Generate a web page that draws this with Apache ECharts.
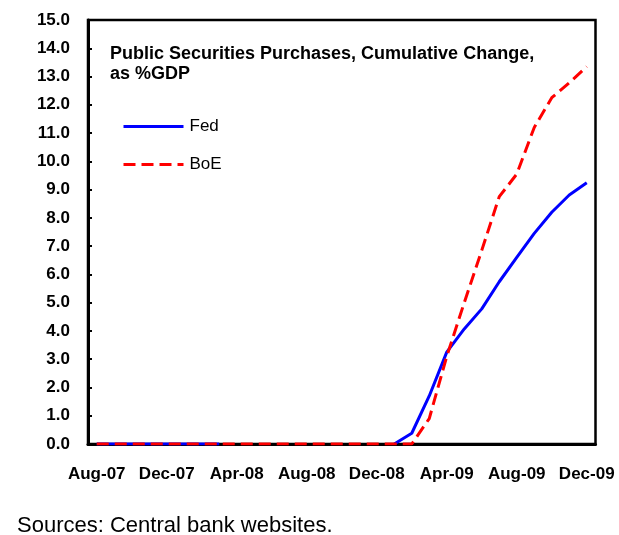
<!DOCTYPE html>
<html>
<head>
<meta charset="utf-8">
<script src="https://cdn.jsdelivr.net/npm/echarts@6/dist/echarts.min.js"></script>
<style>
  html, body { margin: 0; padding: 0; background: #fff; }
  #chart { width: 619px; height: 535px; }
</style>
</head>
<body>
<div id="chart"></div>
<script>
var months = ['Aug-07', 'Sep-07', 'Oct-07', 'Nov-07', 'Dec-07', 'Jan-08', 'Feb-08', 'Mar-08',
  'Apr-08', 'May-08', 'Jun-08', 'Jul-08', 'Aug-08', 'Sep-08', 'Oct-08', 'Nov-08', 'Dec-08',
  'Jan-09', 'Feb-09', 'Mar-09', 'Apr-09', 'May-09', 'Jun-09', 'Jul-09', 'Aug-09', 'Sep-09',
  'Oct-09', 'Nov-09', 'Dec-09'];
var fed = [0, 0, 0, 0, 0, 0, 0, 0,
  null, null, null, null, null, null, null, null, null,
  0, 0.38, 1.7, 3.25, 4.07, 4.78, 5.74, 6.6, 7.45, 8.2, 8.81, 9.24];
var boe = [0, 0, 0, 0, 0, 0, 0, 0, 0, 0, 0, 0, 0, 0, 0, 0, 0, 0, 0,
  0.9, 3.1, 5.0, 6.85, 8.75, 9.55, 11.2, 12.25, 12.78, 13.35];
var titleText = 'Public Securities Purchases, Cumulative Change,\nas %GDP';
var sourceText = 'Sources: Central bank websites.';

var font = '"Liberation Sans", Arial, sans-serif';
var chart = echarts.init(document.getElementById('chart'));
chart.setOption({
  animation: false,
  backgroundColor: '#fff',
  title: {
    text: titleText,
    left: 110,
    top: 44,
    padding: 0,
    textStyle: { fontFamily: font, fontSize: 18, fontWeight: 'bold', color: '#000', lineHeight: 20 }
  },
  graphic: [{
    type: 'text',
    left: 17,
    top: 515,
    style: { text: sourceText, font: '22px ' + font, fill: '#000' }
  }],
  legend: {
    orient: 'vertical',
    left: 122,
    top: 118,
    padding: 0,
    itemWidth: 60,
    itemHeight: 14,
    itemGap: 21,
    itemStyle: { opacity: 0 },
    lineStyle: { width: 3 },
    textStyle: { fontFamily: font, fontSize: 17, color: '#000', padding: [0, 0, 0, 1] },
    data: ['Fed', 'BoE']
  },
  grid: {
    left: 88, right: 23.5, top: 20, bottom: 91,
    show: true, borderColor: '#000', borderWidth: 2.5, backgroundColor: '#fff'
  },
  xAxis: [{
    type: 'category',
    data: months,
    boundaryGap: true,
    axisLine: { lineStyle: { color: '#000', width: 3 } },
    axisTick: { inside: true, interval: 3, length: 5, lineStyle: { color: '#000', width: 2 } },
    axisLabel: { interval: 3, margin: 22, fontFamily: font, fontSize: 17, fontWeight: 'bold', color: '#000' },
    splitLine: { show: false }
  }, {
    type: 'category',
    data: months,
    position: 'bottom',
    boundaryGap: true,
    axisLine: { show: false },
    axisTick: { inside: true, interval: 0, length: 2, lineStyle: { color: '#000', width: 2 } },
    axisLabel: { show: false },
    splitLine: { show: false }
  }],
  yAxis: {
    type: 'value',
    min: 0, max: 15, interval: 1,
    axisLine: { show: true, lineStyle: { color: '#000', width: 3 } },
    axisTick: { show: true, inside: true, length: 4, lineStyle: { color: '#000', width: 2 } },
    axisLabel: {
      margin: 18, fontFamily: font, fontSize: 17, fontWeight: 'bold', color: '#000',
      formatter: function (v) { return v.toFixed(1); }
    },
    splitLine: { show: false }
  },
  series: [{
    name: 'Fed',
    type: 'line',
    data: fed,
    symbol: 'none',
    z: 2,
    lineStyle: { color: '#0000ff', width: 3 },
    itemStyle: { color: '#0000ff' }
  }, {
    name: 'BoE',
    type: 'line',
    data: boe,
    symbol: 'none',
    z: 3,
    lineStyle: { color: '#ff0000', width: 3, type: [12, 6] },
    itemStyle: { color: '#ff0000' }
  }]
});
</script>
</body>
</html>
